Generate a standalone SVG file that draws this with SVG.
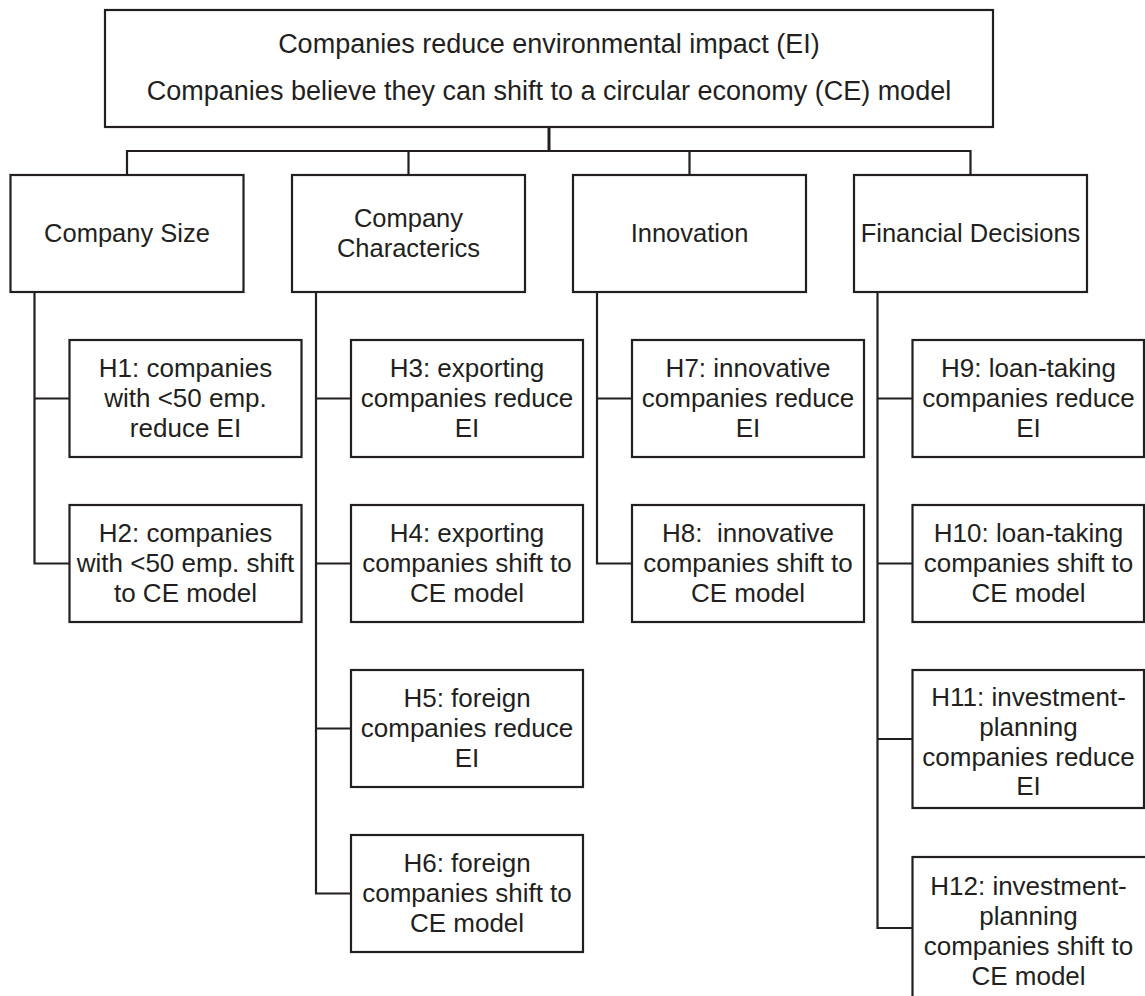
<svg xmlns="http://www.w3.org/2000/svg" width="1145" height="996" viewBox="0 0 1145 996">
<style>
.box{fill:#fff;stroke:#231f20;stroke-width:2.2}
.ln{fill:none;stroke:#231f20;stroke-width:2.2}
text{font-family:"Liberation Sans",Arial,sans-serif;fill:#231f20;text-anchor:middle}
.t0{font-size:27px}
.t1{font-size:25.5px}
.t2{font-size:26px}
</style>
<rect width="1145" height="996" fill="#fff"/>
<g id="connectors">
<path class="ln" d="M549,127V151" style="stroke-width:3"/>
<path class="ln" d="M127,175V151H970.5V175M408.5,151V175M689.5,151V175"/>
<path class="ln" d="M34.5,292V563.5H69.5M34.5,398.5H69.5"/>
<path class="ln" d="M316,292V893.5H351M316,398.5H351M316,563.5H351M316,728.5H351"/>
<path class="ln" d="M597,292V563.5H632M597,398.5H632"/>
<path class="ln" d="M877.5,292V928H912.5M877.5,398.5H912.5M877.5,563.5H912.5M877.5,739H912.5"/>
</g>
<g id="root">
<rect class="box" x="105" y="10" width="888" height="117"/>
<text class="t0" x="549" y="53">Companies reduce environmental impact (EI)</text>
<text class="t0" x="549" y="100">Companies believe they can shift to a circular economy (CE) model</text>
</g>
<g id="size">
<rect class="box" x="10.5" y="175" width="233" height="117"/>
<text class="t1" x="127" y="242">Company Size</text>
</g>
<g id="characterics">
<rect class="box" x="292" y="175" width="233" height="117"/>
<text class="t1" x="408.5" y="227">Company</text>
<text class="t1" x="408.5" y="257">Characterics</text>
</g>
<g id="innovation">
<rect class="box" x="573" y="175" width="233" height="117"/>
<text class="t1" x="689.5" y="242">Innovation</text>
</g>
<g id="financial">
<rect class="box" x="854" y="175" width="233" height="117"/>
<text class="t1" x="970.5" y="242">Financial Decisions</text>
</g>
<g id="h1">
<rect class="box" x="69.5" y="340" width="232" height="117"/>
<text class="t2" x="185.5" y="377">H1: companies</text>
<text class="t2" x="185.5" y="407">with &lt;50 emp.</text>
<text class="t2" x="185.5" y="437">reduce EI</text>
</g>
<g id="h2">
<rect class="box" x="69.5" y="505" width="232" height="117"/>
<text class="t2" x="185.5" y="542">H2: companies</text>
<text class="t2" x="185.5" y="572">with &lt;50 emp. shift</text>
<text class="t2" x="185.5" y="602">to CE model</text>
</g>
<g id="h3">
<rect class="box" x="351" y="340" width="232" height="117"/>
<text class="t2" x="467" y="377">H3: exporting</text>
<text class="t2" x="467" y="407">companies reduce</text>
<text class="t2" x="467" y="437">EI</text>
</g>
<g id="h4">
<rect class="box" x="351" y="505" width="232" height="117"/>
<text class="t2" x="467" y="542">H4: exporting</text>
<text class="t2" x="467" y="572">companies shift to</text>
<text class="t2" x="467" y="602">CE model</text>
</g>
<g id="h5">
<rect class="box" x="351" y="670" width="232" height="117"/>
<text class="t2" x="467" y="707">H5: foreign</text>
<text class="t2" x="467" y="737">companies reduce</text>
<text class="t2" x="467" y="767">EI</text>
</g>
<g id="h6">
<rect class="box" x="351" y="835" width="232" height="117"/>
<text class="t2" x="467" y="872">H6: foreign</text>
<text class="t2" x="467" y="902">companies shift to</text>
<text class="t2" x="467" y="932">CE model</text>
</g>
<g id="h7">
<rect class="box" x="632" y="340" width="232" height="117"/>
<text class="t2" x="748" y="377">H7: innovative</text>
<text class="t2" x="748" y="407">companies reduce</text>
<text class="t2" x="748" y="437">EI</text>
</g>
<g id="h8">
<rect class="box" x="632" y="505" width="232" height="117"/>
<text class="t2" x="748" y="542" xml:space="preserve">H8:  innovative</text>
<text class="t2" x="748" y="572">companies shift to</text>
<text class="t2" x="748" y="602">CE model</text>
</g>
<g id="h9">
<rect class="box" x="912.5" y="340" width="231.5" height="117"/>
<text class="t2" x="1028.5" y="377">H9: loan-taking</text>
<text class="t2" x="1028.5" y="407">companies reduce</text>
<text class="t2" x="1028.5" y="437">EI</text>
</g>
<g id="h10">
<rect class="box" x="912.5" y="505" width="231.5" height="117"/>
<text class="t2" x="1028.5" y="542">H10: loan-taking</text>
<text class="t2" x="1028.5" y="572">companies shift to</text>
<text class="t2" x="1028.5" y="602">CE model</text>
</g>
<g id="h11">
<rect class="box" x="912.5" y="670" width="231.5" height="138"/>
<text class="t2" x="1028.5" y="706">H11: investment-</text>
<text class="t2" x="1028.5" y="736">planning</text>
<text class="t2" x="1028.5" y="766">companies reduce</text>
<text class="t2" x="1028.5" y="795">EI</text>
</g>
<g id="h12">
<rect class="box" x="912.5" y="857" width="240" height="150"/>
<text class="t2" x="1028.5" y="895">H12: investment-</text>
<text class="t2" x="1028.5" y="925">planning</text>
<text class="t2" x="1028.5" y="955">companies shift to</text>
<text class="t2" x="1028.5" y="985">CE model</text>
</g>
</svg>
